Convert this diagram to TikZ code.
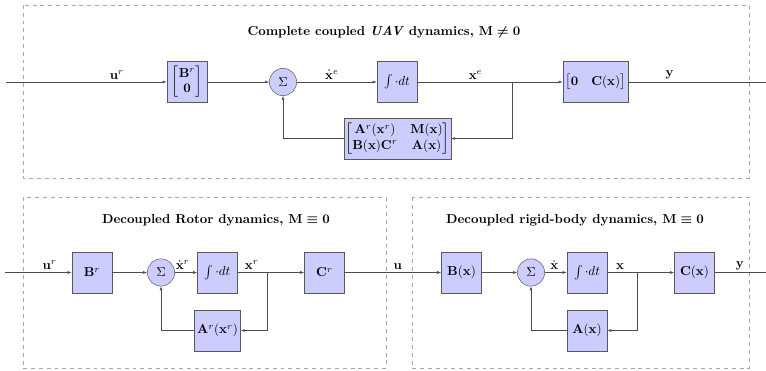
\documentclass[tikz,border=0pt]{standalone}
\usepackage{amsmath,amssymb}
\usepackage{tikz}
\usetikzlibrary{arrows.meta, positioning}

\begin{document}
\begin{tikzpicture}[
    x=0.77pt, y=-0.77pt,
    block/.style={draw=gray!70!black, fill=blue!20, minimum width=31pt, minimum height=31.5pt, inner sep=2pt},
    sumnode/.style={draw=gray!70!black, fill=blue!20, circle, minimum size=21pt, inner sep=0pt},
    arrow/.style={draw=gray!60!black, -{Latex[length=3pt,width=2.2pt]}},
    line/.style={draw=gray!60!black},
    frame/.style={draw=gray!70, dashed},
    title/.style={font=\bfseries\boldmath},
    labelnode/.style={above=1pt, inner sep=1pt}
]
    \useasboundingbox (0,0) rectangle (766,371);

    % --- Frames ---
    \draw[frame] (23,5) rectangle (749,178);
    \draw[frame] (23,197) rectangle (386,368);
    \draw[frame] (412,197) rectangle (749,368);

    \node[title] (titletop) at (384,32) {Complete coupled \textit{UAV} dynamics, $\mathbf{M}\neq 0$};
    \node[title] (titlerot) at (216,220) {Decoupled Rotor dynamics, $\mathbf{M}\equiv 0$};
    \node[title] (titlerig) at (575,220) {Decoupled rigid-body dynamics, $\mathbf{M}\equiv 0$};

    % --- Coupled dynamics ---
    \coordinate (intop) at (6,82);
    \coordinate (outtop) at (766,82);
    \node[block] (bt) at (187,82) {$\begin{bmatrix}\mathbf{B}^r\\ \mathbf{0}\end{bmatrix}$};
    \node[sumnode] (sumt) at (283,82) {$\Sigma$};
    \node[block] (intt) at (397,82) {$\int\cdot dt$};
    \node[block] (ct) at (595.5,82) {$\begin{bmatrix}\mathbf{0} & \mathbf{C}(\mathbf{x})\end{bmatrix}$};
    \node[block, inner sep=1pt] (fbt) at (397.5,138.5) {$\begin{bmatrix}\mathbf{A}^r(\mathbf{x}^r) & \mathbf{M}(\mathbf{x})\\ \mathbf{B}(\mathbf{x})\mathbf{C}^r & \mathbf{A}(\mathbf{x})\end{bmatrix}$};
    \coordinate (brt) at (512,82);

    \draw[arrow] (intop) -- node[labelnode, pos=0.69]{$\mathbf{u}^r$} (bt);
    \draw[arrow] (bt) -- (sumt);
    \draw[arrow] (sumt) -- node[labelnode, pos=0.44]{$\dot{\mathbf{x}}^e$} (intt);
    \draw[arrow] (intt) -- node[labelnode, pos=0.4]{$\mathbf{x}^e$} (ct);
    \draw[line] (ct) -- node[labelnode, pos=0.3]{$\mathbf{y}$} (outtop);
    \draw[arrow] (brt) |- (fbt);
    \draw[arrow] (fbt) -| (sumt);

    % --- Rotor dynamics ---
    \coordinate (inrot) at (5,272.5);
    \node[block] (br) at (92,272.5) {$\mathbf{B}^r$};
    \node[sumnode] (sumr) at (161,272.5) {$\Sigma$};
    \node[block] (intr) at (217.5,272.5) {$\int\cdot dt$};
    \node[block] (cr) at (324.5,272.5) {$\mathbf{C}^r$};
    \node[block] (ar) at (217.5,330.5) {$\mathbf{A}^r(\mathbf{x}^r)$};
    \coordinate (brr) at (267,272.5);

    \draw[arrow] (inrot) -- node[labelnode, pos=0.67]{$\mathbf{u}^r$} (br);
    \draw[arrow] (br) -- (sumr);
    \draw[arrow] (sumr) -- node[labelnode, pos=0.35]{$\dot{\mathbf{x}}^r$} (intr);
    \draw[arrow] (intr) -- node[labelnode, pos=0.21]{$\mathbf{x}^r$} (cr);
    \draw[arrow] (brr) |- (ar);
    \draw[arrow] (ar) -| (sumr);

    % --- Rigid-body dynamics ---
    \coordinate (outrig) at (766,272.5);
    \node[block] (bx) at (461.5,272.5) {$\mathbf{B}(\mathbf{x})$};
    \node[sumnode] (sumx) at (531,272.5) {$\Sigma$};
    \node[block] (intx) at (587,272.5) {$\int\cdot dt$};
    \node[block] (cx) at (694.5,272.5) {$\mathbf{C}(\mathbf{x})$};
    \node[block] (ax) at (587,330.5) {$\mathbf{A}(\mathbf{x})$};
    \coordinate (brx) at (637,272.5);

    \draw[arrow] (cr) -- node[labelnode, pos=0.55]{$\mathbf{u}$} (bx);
    \draw[arrow] (bx) -- (sumx);
    \draw[arrow] (sumx) -- node[labelnode, pos=0.43]{$\dot{\mathbf{x}}$} (intx);
    \draw[arrow] (intx) -- node[labelnode, pos=0.19]{$\mathbf{x}$} (cx);
    \draw[line] (cx) -- node[labelnode, pos=0.49]{$\mathbf{y}$} (outrig);
    \draw[arrow] (brx) |- (ax);
    \draw[arrow] (ax) -| (sumx);

\end{tikzpicture}
\end{document}
